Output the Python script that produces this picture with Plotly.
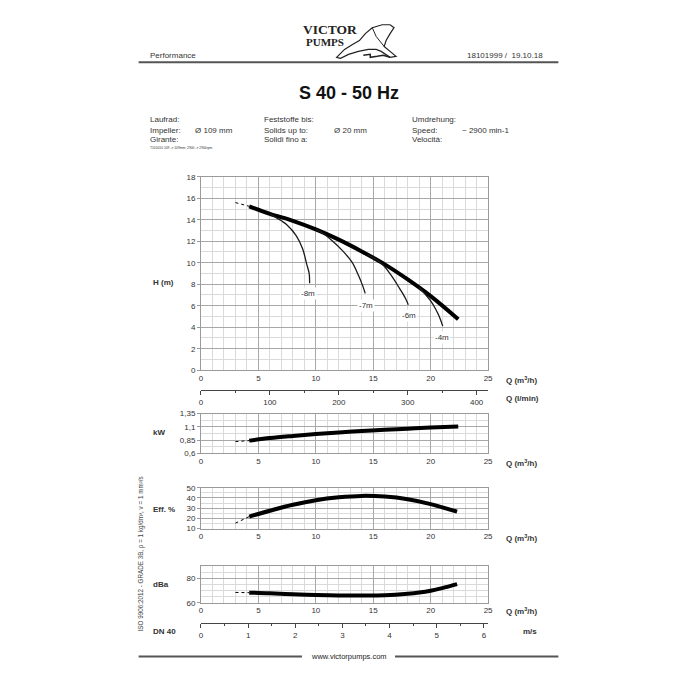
import plotly.graph_objects as go

# ---------------- data ----------------
Q_H = [4.2, 6, 8, 10, 12, 14, 16, 18, 20, 22.4]
H_m = [15.25, 14.55, 13.9, 13.1, 12.15, 11.05, 9.85, 8.45, 6.9, 4.75]
Q_H_dash = [3.0, 4.2]
H_dash = [15.6, 15.25]

branch_names = ["-8m", "-7m", "-6m", "-4m"]
branch_Q = [
    [6.0, 7.0, 7.45, 8.3, 8.85, 9.2, 9.42, 9.46],
    [10.0, 10.6, 11.15, 12.3, 13.15, 13.7, 14.1, 14.3],
    [14.5, 15.7, 16.55, 17.3, 17.8, 18.05],
    [19.0, 20.0, 20.45, 20.8, 21.05],
]
branch_H = [
    [14.55, 13.9, 13.55, 12.5, 11.3, 9.9, 9.0, 8.1],
    [13.1, 12.75, 12.3, 11.15, 10.05, 8.85, 7.8, 7.15],
    [10.75, 9.95, 8.85, 7.6, 6.7, 6.1],
    [7.7, 6.45, 5.65, 4.87, 4.1],
]
branch_label_Q = [9.3, 14.35, 18.15, 21.0]
branch_label_H = [7.15, 6.0, 5.1, 3.05]

Q_kW = [4.2, 6, 8, 10, 12, 14, 16, 18, 20, 22.4]
P_kW = [0.842, 0.89, 0.93, 0.966, 0.995, 1.022, 1.045, 1.067, 1.088, 1.108]
Q_kW_dash = [3.0, 4.2]
P_kW_dash = [0.823, 0.842]

Q_eff = [4.2, 6, 8, 10, 12, 14, 16, 18, 20, 22.3]
Eff = [21.8, 27.5, 33.3, 37.8, 40.6, 42.0, 41.3, 38.7, 34.0, 26.6]
Q_eff_dash = [3.0, 4.2]
Eff_dash = [15.4, 21.8]

Q_dB = [4.2, 6, 8, 10, 12, 14, 16, 18, 19, 20, 21, 22.3]
dBa = [68.3, 67.8, 67.0, 66.4, 66.1, 66.0, 66.2, 67.4, 68.4, 69.9, 72.0, 75.2]
Q_dB_dash = [3.0, 4.2]
dBa_dash = [68.5, 68.3]

lmin_ticks = [0, 100, 200, 300, 400]
ms_ticks = [0, 1, 2, 3, 4, 5, 6]
kW_ticks = [0.6, 0.85, 1.1, 1.35]
kW_ticktext = ["0,6", "0,85", "1,1", "1,35"]

# ---------------- helpers ----------------
W = 700.0
def px(x):
    return x / W
def py(y):
    return 1 - y / W

FONT = "Liberation Sans, Arial, sans-serif"
TXT = "#333333"
MAJ = "#a8a8a8"
MIN = "#dadada"
FRAME = "#9a9a9a"
XD = [px(201), px(491)]

fig = go.Figure()

def line(x, y, xa, ya, width, dash=None, color="black"):
    fig.add_trace(go.Scatter(x=x, y=y, xaxis=xa, yaxis=ya, mode="lines",
                             line=dict(color=color, width=width, dash=dash, shape="spline"),
                             hoverinfo="skip", showlegend=False))

# H panel
line(Q_H_dash, H_dash, "x", "y", 1, "dot")
line(Q_H, H_m, "x", "y", 4)
for bq, bh in zip(branch_Q, branch_H):
    line(bq, bh, "x", "y", 1.3, color="#1a1a1a")
# kW panel
line(Q_kW_dash, P_kW_dash, "x2", "y2", 1, "dot")
line(Q_kW, P_kW, "x2", "y2", 4)
# Eff panel
line(Q_eff_dash, Eff_dash, "x3", "y3", 1, "dot")
line(Q_eff, Eff, "x3", "y3", 4)
# dBa panel
line(Q_dB_dash, dBa_dash, "x4", "y4", 1, "dot")
line(Q_dB, dBa, "x4", "y4", 4)

# invisible carriers so the secondary scales are drawn
fig.add_trace(go.Scatter(x=lmin_ticks, y=[0] * len(lmin_ticks), xaxis="x5", yaxis="y5",
                         mode="markers", marker=dict(opacity=0), hoverinfo="skip", showlegend=False))
fig.add_trace(go.Scatter(x=ms_ticks, y=[0] * len(ms_ticks), xaxis="x6", yaxis="y6",
                         mode="markers", marker=dict(opacity=0), hoverinfo="skip", showlegend=False))

tickfont = dict(family=FONT, size=8, color=TXT)

def qaxis(anchor):
    return dict(domain=XD, anchor=anchor, range=[0, 25], dtick=5, tick0=0,
                showgrid=True, gridcolor=MAJ, gridwidth=1,
                minor=dict(dtick=1, showgrid=True, gridcolor=MIN, gridwidth=1),
                showline=True, mirror=True, linecolor=FRAME, linewidth=1,
                zeroline=False, ticks="", tickfont=tickfont, fixedrange=True)

def yaxis(anchor, dom, rng, **kw):
    d = dict(domain=[py(dom[1]), py(dom[0])], anchor=anchor, range=rng,
             showgrid=True, gridcolor=MAJ, gridwidth=1,
             showline=True, mirror=True, linecolor=FRAME, linewidth=1,
             zeroline=False, ticks="outside", ticklen=3, tickcolor=FRAME,
             tickfont=tickfont, fixedrange=True)
    d.update(kw)
    return d

def sec_axis(anchor, rng, vals, minor_dt):
    return dict(domain=XD, anchor=anchor, range=rng, tickvals=vals,
                showgrid=False, zeroline=False, showline=True, linecolor="#444", linewidth=1,
                ticks="outside", ticklen=4, tickcolor="#444", tickfont=tickfont,
                minor=dict(dtick=minor_dt, ticks="outside", ticklen=2, tickcolor="#444"),
                fixedrange=True)

layout = dict(
    width=700, height=700, margin=dict(l=0, r=0, t=0, b=0),
    paper_bgcolor="white", plot_bgcolor="white", showlegend=False,
    font=dict(family=FONT, color=TXT),
    xaxis=qaxis("y"),
    yaxis=yaxis("x", (175, 371), [0, 18], dtick=2,
                minor=dict(dtick=1, showgrid=True, gridcolor=MIN)),
    xaxis2=qaxis("y2"),
    yaxis2=yaxis("x2", (415, 455.3), [0.6, 1.35], tickvals=kW_ticks, ticktext=kW_ticktext,
                 minor=dict(tick0=0.6, dtick=0.125, showgrid=True, gridcolor=MIN)),
    xaxis3=qaxis("y3"),
    yaxis3=yaxis("x3", (490, 531.5), [10, 50], dtick=10,
                 minor=dict(dtick=5, showgrid=True, gridcolor=MIN)),
    xaxis4=qaxis("y4"),
    yaxis4=yaxis("x4", (569.3, 606.7), [60, 90], tickvals=[60, 80],
                 minor=dict(tick0=60, dtick=5, showgrid=True, gridcolor=MIN)),
    xaxis5=sec_axis("y5", [0, 25 * 1000 / 60], lmin_ticks, 50),
    yaxis5=dict(domain=[py(391), py(389)], anchor="x5", visible=False, fixedrange=True, range=[0, 1]),
    xaxis6=sec_axis("y6", [0, 6.09], ms_ticks, 0.5),
    yaxis6=dict(domain=[py(627), py(625)], anchor="x6", visible=False, fixedrange=True, range=[0, 1]),
)
fig.update_layout(**layout)

ann = []
def text(x, y, s, size=8, bold=False, xanchor="left", color=TXT, family=FONT, **kw):
    if bold:
        s = "<b>" + s + "</b>"
    ann.append(dict(x=px(x), y=py(y), xref="paper", yref="paper", text=s, showarrow=False,
                    xanchor=xanchor, yanchor="middle", font=dict(size=size, color=color, family=family), **kw))

# header
text(147, 52, "Performance", 8)
text(548, 52, "18101999 /  19.10.18", 8, xanchor="right")
text(302, 26, "VICTOR", 13.5, bold=True, color="#222", family="Liberation Serif, serif")
text(305, 38.5, "PUMPS", 11, bold=True, color="#222", family="Liberation Serif, serif")
text(350, 90, "S 40 - 50 Hz", 18, bold=True, xanchor="center", color="#111")

text(147, 117, "Laufrad:", 8)
text(147, 128, "Impeller:", 8)
text(147, 137, "Girante:", 8)
text(193, 128, "Ø 109 mm", 8)
text(147, 146, "T101010 109 -> 109mm; 2900 -> 2900rpm", 3.3)
text(263, 117, "Feststoffe bis:", 8)
text(263, 128, "Solids up to:", 8)
text(263, 137, "Solidi fino a:", 8)
text(333, 128, "Ø 20 mm", 8)
text(412, 117, "Umdrehung:", 8)
text(412, 128, "Speed:", 8)
text(412, 137, "Velocità:", 8)
text(463, 128, "~ 2900 min-1", 8)

# axis titles
text(150, 282, "H (m)", 8, bold=True)
text(150, 434, "kW", 8, bold=True)
text(150, 512, "Eff. %", 8, bold=True)
text(150, 588, "dBa", 8, bold=True)
text(150, 636, "DN 40", 8, bold=True)
text(524, 636, "m/s", 8, bold=True)
for yy in (381, 465, 541, 615):
    text(507, yy, "Q (m<sup>3</sup>/h)", 8, bold=True)
text(507, 400, "Q (l/min)", 8, bold=True)

# ISO vertical text
ann.append(dict(x=px(140), y=py(557), xref="paper", yref="paper", showarrow=False,
                text="ISO 9906:2012 - GRADE 3B, ρ = 1 kg/dm³, ν = 1 mm²/s", textangle=-90,
                xanchor="center", yanchor="middle", font=dict(size=6.3, color="#444", family=FONT)))

# footer
text(350, 661, "www.victorpumps.com", 7.5, xanchor="center", color="#222")

# branch labels
for name, lq, lh in zip(branch_names, branch_label_Q, branch_label_H):
    ann.append(dict(x=lq, y=lh, xref="x", yref="y", text=name, showarrow=False,
                    bgcolor="white", borderpad=1, font=dict(size=8, color=TXT, family=FONT)))

fig.update_layout(annotations=ann)

shapes = []
def seg(x0, y0, x1, y1, w=1, c="#444"):
    shapes.append(dict(type="line", xref="paper", yref="paper", x0=px(x0), y0=py(y0),
                       x1=px(x1), y1=py(y1), line=dict(color=c, width=w)))
seg(138, 59, 562, 59, 2, "#555")
seg(138, 661, 303, 661, 2, "#555")
seg(397, 661, 562, 661, 2, "#555")

# simple elephant mark for the logo
def path(pts, close=False):
    s = "M " + " L ".join(f"{px(a):.5f},{py(b):.5f}" for a, b in pts)
    return s + (" Z" if close else "")
elephant = [(338, 54), (346, 46), (354, 41), (361, 37), (367, 30), (374, 24),
            (384, 21), (392, 21), (396, 24), (392, 30), (388, 37), (386, 43),
            (392, 48), (398, 53), (392, 54), (383, 48), (378, 46), (370, 46),
            (360, 48), (350, 51), (342, 55)]
shapes.append(dict(type="path", xref="paper", yref="paper", path=path(elephant, True),
                   line=dict(color="#222", width=1.2), fillcolor="rgba(0,0,0,0)"))
shapes.append(dict(type="path", xref="paper", yref="paper",
                   path=path([(374, 24), (378, 33), (386, 43)]),
                   line=dict(color="#222", width=1)))
shapes.append(dict(type="path", xref="paper", yref="paper",
                   path=path([(365, 52), (372, 51), (372, 54), (379, 53), (385, 52), (392, 54)]),
                   line=dict(color="#222", width=1.5)))
fig.update_layout(shapes=shapes)

fig.write_html("out.html", config={"displayModeBar": False},
               post_script="document.body.style.margin='0';")
